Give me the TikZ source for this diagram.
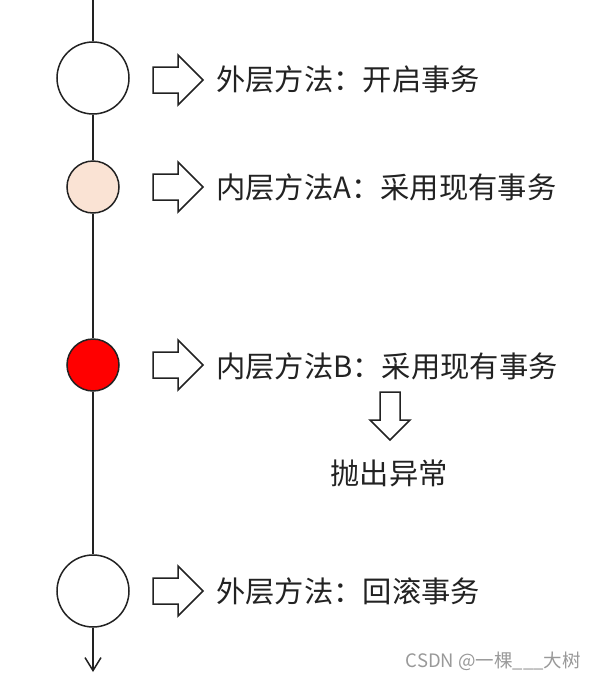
\documentclass[tikz,border=0pt]{standalone}
\usepackage{fontspec}
\setmainfont{Noto Sans CJK SC}
\usetikzlibrary{arrows.meta}
\definecolor{peach}{HTML}{FAE3D4}
\definecolor{ink}{HTML}{222222}
\definecolor{wm}{HTML}{999999}
\tikzset{
  stepcirc/.style={circle,draw=ink,line width=1.5pt,inner sep=0pt},
  bigc/.style={stepcirc,minimum size=72pt,fill=white},
  smallc/.style={stepcirc,minimum size=52pt},
  lbl/.style={anchor=west,inner sep=0pt,text=ink,font=\fontsize{29.3}{29.3}\selectfont},
  blk/.style={draw=ink,line width=1.5pt,fill=white,line join=miter},
  rblk/.pic={\draw[blk] (0,-13) -- (25,-13) -- (25,-25) -- (50,0) -- (25,25) -- (25,13) -- (0,13) -- cycle;},
  dblk/.pic={\draw[blk] (-10,0) -- (10,0) -- (10,28) -- (20,28) -- (0,48) -- (-20,28) -- (-10,28) -- cycle;}
}
\begin{document}
\begin{tikzpicture}[x=1pt,y=-1pt]
\useasboundingbox (0,0) rectangle (597,680);
\coordinate (top) at (93,0);
\coordinate (bot) at (93,672);
\node[bigc] (c1) at (93,78) {};
\node[smallc,fill=peach] (c2) at (93,187) {};
\node[smallc,fill=red] (c3) at (93,365) {};
\node[bigc] (c4) at (93,591) {};
\draw[ink,line width=1.5pt] (top) -- (c1) (c1) -- (c2) (c2) -- (c3) (c3) -- (c4);
\draw[ink,line width=1.5pt,-{Straight Barb[length=13pt,width=16pt,line width=1.5pt]}] (c4) -- (bot);
\pic at (153,80) {rblk};
\pic at (153,187) {rblk};
\pic at (153,365) {rblk};
\pic at (153,591) {rblk};
\pic at (390,392) {dblk};
\node[lbl] (t1) at (216,79) {外层方法：开启事务};
\node[lbl] (t2) at (216,187) {内层方法A：采用现有事务};
\node[lbl] (t3) at (216,366) {内层方法B：采用现有事务};
\node[lbl,anchor=center] (t5) at (389,473) {抛出异常};
\node[lbl] (t4) at (216,591) {外层方法：回滚事务};
\node[anchor=east,inner sep=0pt,text=wm,font=\fontsize{18.5}{18.5}\selectfont] (wmk) at (581,661) {CSDN @一棵\_\_\_大树};
\end{tikzpicture}
\end{document}
